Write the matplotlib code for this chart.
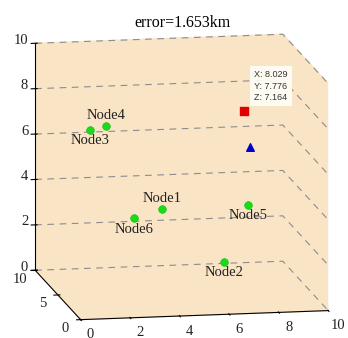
import matplotlib
matplotlib.use("Agg")
import matplotlib.pyplot as plt
import matplotlib.transforms as mtransforms
import numpy as np

# Data
node_names = ["Node1", "Node2", "Node3", "Node4", "Node5", "Node6"]
node_x = [4.2, 7.6, 1.5, 2.5, 7.5, 2.7]
node_y = [5.0, 9.8, 6.0, 8.0, 4.0, 3.0]
node_z = [3.6, 0.1, 7.0, 6.7, 3.9, 3.7]
label_above = [True, False, False, True, False, False]

est_point = (8.029, 7.776, 7.164)   # red square (estimated position)
true_point = (8.3, 8.0, 5.55)       # blue triangle (true position)
error_km = 1.653

ticks_x = [0, 2, 4, 6, 8, 10]
ticks_y = [0, 5, 10]
ticks_z = [0, 2, 4, 6, 8, 10]

serif = ["Liberation Serif", "DejaVu Serif"]
pane_color = (0.98, 0.895, 0.775, 1.0)

fig = plt.figure(figsize=(3.48, 3.38), dpi=100)
ax = fig.add_axes([0.009, -0.037, 1.0, 1.0], projection="3d")
ax.set_proj_type("ortho")
ax.view_init(elev=11.5, azim=-100.4)
ax.set_box_aspect((1, 1, 0.92), zoom=1.22)

ax.set_xlim(0, 10)
ax.set_ylim(0, 10)
ax.set_zlim(0, 10)
ax.set_xticks(ticks_x)
ax.set_yticks(ticks_y)
ax.set_zticks(ticks_z)
for axis in (ax.xaxis, ax.yaxis, ax.zaxis):
    axis.set_tick_params(labelbottom=False)
    axis.label.set_visible(False)

for axis in (ax.xaxis, ax.yaxis, ax.zaxis):
    axis.set_pane_color(pane_color)
    axis._axinfo["axisline"]["color"] = (0.75, 0.75, 0.75, 1)
    axis._axinfo["tick"]["color"] = (0.6, 0.6, 0.6, 1)
    axis.pane.set_edgecolor(pane_color)
for axis in (ax.xaxis, ax.yaxis):
    axis._axinfo["grid"]["color"] = (1, 1, 1, 0)
    axis._axinfo["grid"]["linewidth"] = 0
ax.zaxis._axinfo["grid"]["color"] = (0.55, 0.55, 0.55, 1)
ax.zaxis._axinfo["grid"]["linestyle"] = (0, (6, 5))
ax.zaxis._axinfo["grid"]["linewidth"] = 0.8


def px(v):
    return v * 72.0 / fig.dpi


def tick_text(x, y, z, s, dx, dy, ha, va):
    tr = mtransforms.offset_copy(ax.transData, fig=fig, x=px(dx), y=px(dy), units="points")
    ax.text(x, y, z, s, transform=tr, family=serif, fontsize=10.5, ha=ha, va=va,
            color="#222222")


for t in ticks_z:
    tick_text(0, 10, t, str(t), -7, 3, "right", "center")
for t in ticks_y:
    tick_text(0, t, 0, str(t), -15, -9, "center", "center")
for t in ticks_x:
    tick_text(t, 0, 0, str(t), 10, -15, "center", "center")

# nodes
ax.scatter(node_x, node_y, node_z, s=30, c="#19dc19", edgecolors="#10c010",
           linewidths=0.5, depthshade=False)
for n, x, y, z, above in zip(node_names, node_x, node_y, node_z, label_above):
    off = 3 if above else -3
    tr = mtransforms.offset_copy(ax.transData, fig=fig, x=0, y=off, units="points")
    ax.text(x, y, z, n, transform=tr, family=serif, fontsize=10.5,
            ha="center", va="bottom" if above else "top", color="#222222")

ax.scatter([est_point[0]], [est_point[1]], [est_point[2]], marker="s", s=28,
           c="#e00000", depthshade=False)
ax.scatter([true_point[0]], [true_point[1]], [true_point[2]], marker="^", s=30,
           c="#0000c8", depthshade=False)

tr = mtransforms.offset_copy(ax.transData, fig=fig, x=px(10), y=px(9), units="points")
ax.text(est_point[0], est_point[1], est_point[2],
        "X: %.3f\nY: %.3f\nZ: %.3f" % est_point, transform=tr,
        family=["Liberation Sans", "DejaVu Sans"], fontsize=6.5, ha="left", va="bottom",
        linespacing=1.35, color="#333333",
        bbox=dict(boxstyle="square,pad=0.45", fc=(1, 1, 0.97, 0.92), ec="none"))

fig.text(0.523, 0.932, "error=%.3fkm" % error_km, family=serif, fontsize=11.5,
         ha="center", va="center")

fig.savefig("out.png", dpi=100)
